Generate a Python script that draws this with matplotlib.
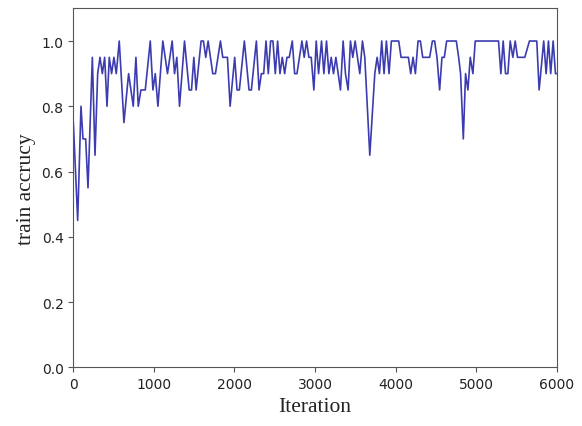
import matplotlib
matplotlib.use('Agg')
import matplotlib.pyplot as plt

# iteration / train accuracy
iters = [0, 54, 95, 120, 153, 182, 236, 269, 302, 331, 360, 389, 418, 446, 475, 504,
         533, 570, 628, 686, 744, 777, 806, 839, 893, 955, 988, 1017, 1050, 1111,
         1169, 1227, 1256, 1285, 1318, 1380, 1438, 1467, 1496, 1524, 1586, 1615, 1644,
         1673, 1702, 1731, 1764, 1826, 1855, 1913, 1946, 2003, 2032, 2061, 2123, 2181,
         2210, 2272, 2305, 2334, 2363, 2392, 2420, 2449, 2478, 2507, 2536, 2565, 2594,
         2623, 2652, 2680, 2718, 2747, 2776, 2838, 2866, 2895, 2924, 2953, 2986, 3015,
         3044, 3081, 3110, 3143, 3172, 3201, 3230, 3259, 3288, 3316, 3349, 3378, 3411,
         3440, 3469, 3498, 3527, 3556, 3589, 3618, 3680, 3742, 3771, 3800, 3828, 3857,
         3886, 3919, 3948, 4039, 4068, 4159, 4188, 4217, 4246, 4279, 4308, 4337, 4423,
         4457, 4485, 4514, 4547, 4576, 4605, 4634, 4754, 4783, 4807, 4841, 4869, 4898,
         4927, 4960, 4989, 5278, 5307, 5336, 5365, 5394, 5423, 5456, 5485, 5514, 5604,
         5662, 5753, 5782, 5839, 5869, 5898, 5926, 5956, 5985, 6000]
acc = [0.75, 0.45, 0.80, 0.70, 0.70, 0.55, 0.95, 0.65, 0.90, 0.95, 0.90, 0.95, 0.80, 0.95,
       0.90, 0.95, 0.90, 1.00, 0.75, 0.90, 0.80, 0.95, 0.80, 0.85, 0.85, 1.00, 0.85, 0.90,
       0.80, 1.00,
       0.90, 1.00, 0.90, 0.95, 0.80, 1.00, 0.85, 0.85, 0.95, 0.85, 1.00, 1.00, 0.95,
       1.00, 0.95, 0.90, 0.90, 1.00, 0.95, 0.95, 0.80, 0.95, 0.85, 0.85, 1.00, 0.85,
       0.85, 1.00, 0.85, 0.90, 0.90, 1.00, 0.90, 1.00, 1.00, 0.90, 1.00, 0.90, 0.95,
       0.90, 0.95, 0.95, 1.00, 0.90, 0.90, 1.00, 0.95, 1.00, 0.95, 0.95, 0.85, 1.00,
       0.90, 1.00, 0.90, 1.00, 0.90, 0.95, 0.90, 0.95, 0.90, 0.85, 1.00, 0.90, 0.85,
       1.00, 0.95, 1.00, 0.95, 0.90, 1.00, 0.95, 0.65, 0.90, 0.95, 0.90, 1.00, 0.90,
       1.00, 0.90, 1.00, 1.00, 0.95, 0.95, 0.90, 0.95, 0.90, 1.00, 1.00, 0.95, 0.95,
       1.00, 1.00, 0.95, 0.85, 0.95, 0.95, 1.00, 1.00, 0.95, 0.90, 0.70, 0.90, 0.85,
       0.95, 0.90, 1.00, 1.00, 0.90, 1.00, 0.90, 0.90, 1.00, 0.95, 1.00, 0.95, 0.95,
       1.00, 1.00, 0.85, 1.00, 0.90, 1.00, 0.90, 1.00, 0.90, 0.90]

fig = plt.figure(figsize=(5.82, 4.27), dpi=100)
ax = fig.add_axes([0.126, 0.1375, 0.8305, 0.8405])
ax.plot(iters, acc, color='#3c3cb0', lw=1.2)

ax.set_xlim(0, 6000)
ax.set_ylim(0, 1.1)
ax.set_xticks([0, 1000, 2000, 3000, 4000, 5000, 6000])
ax.set_yticks([0.0, 0.2, 0.4, 0.6, 0.8, 1.0])
for s in ax.spines.values():
    s.set_color('#555555')
ax.tick_params(colors='#555555', labelcolor='#222222', labelsize=10)

ax.set_xlabel('Iteration', fontfamily='Liberation Serif', fontsize=15.5, color='#222222')
ax.set_ylabel('train accrucy', fontfamily='Liberation Serif', fontsize=15.5, color='#222222')

fig.savefig('out.png', dpi=100)
